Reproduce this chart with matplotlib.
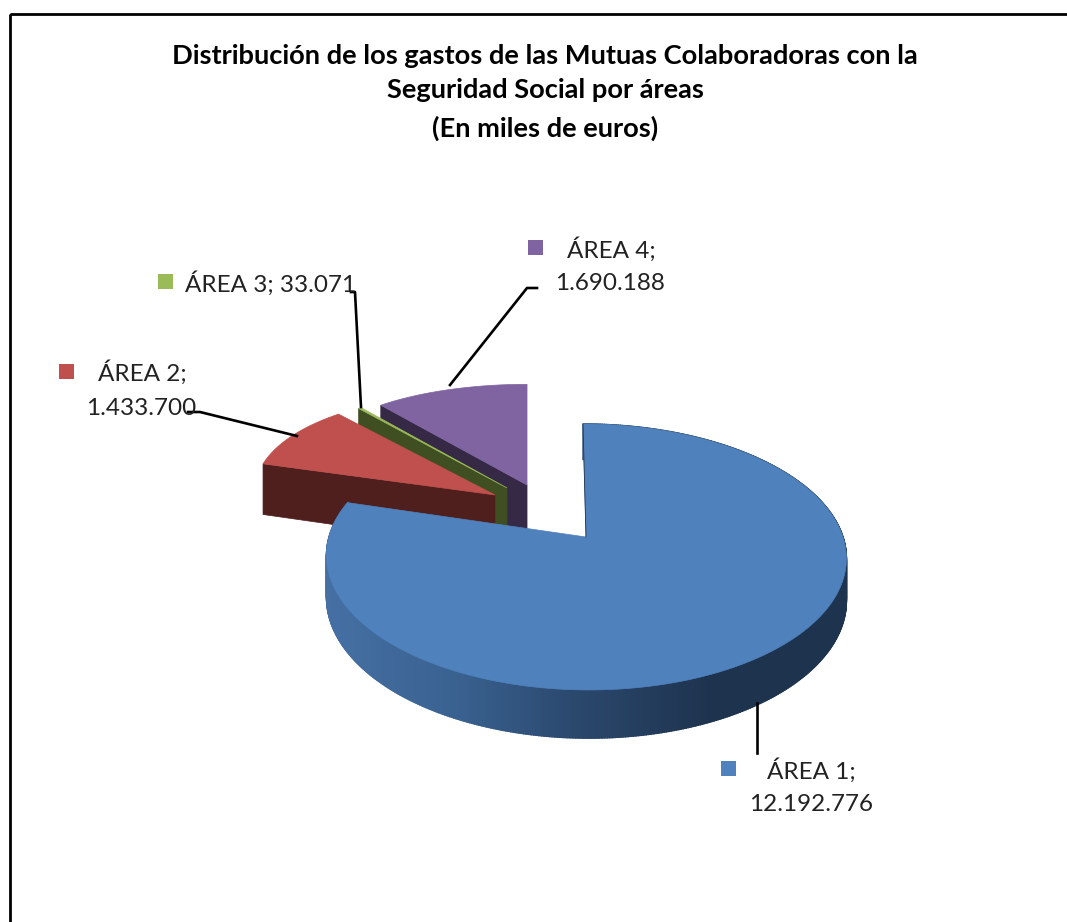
import numpy as np
import matplotlib
matplotlib.use("Agg")
import matplotlib.pyplot as plt
from matplotlib.collections import PolyCollection
from matplotlib.colors import LinearSegmentedColormap
from matplotlib.patches import Polygon, Rectangle

plt.rcParams["font.family"] = ["Lato", "DejaVu Sans"]

title_lines = [
    "Distribución de los gastos de las Mutuas Colaboradoras con la",
    "Seguridad Social por áreas",
    "(En miles de euros)",
]
areas = ["ÁREA 1", "ÁREA 2", "ÁREA 3", "ÁREA 4"]
gastos = [12192776, 1433700, 33071, 1690188]
top_colors = ["#4F81BD", "#C0504D", "#9BBB59", "#8064A2"]
wall_colors = ["#1F3550", "#4F1F1D", "#3F4F22", "#352945"]

# where each slice is pulled out to, in disc units
offsets_u = [0.0, -0.356, -0.31, -0.229]
offsets_v = [0.0, 0.34, 0.40, 0.4255]
stretches = [1.0, 0.975, 0.933, 0.938]

CX, CY = 583, 537
RX, RY = 257, 130
K = 0.15
DEPTH = 41
OUT_DEPTH = 1.35


def project(u, v, z=0.0):
    den = 1 + K * v
    return CX + RX * u / den + 3 * (1 - v), CY - RY * v / den + z * DEPTH / den


def project_out(u, v, ov, z=0.0):
    # pulled-out slices keep straight vertical x, scaled at their apex
    den = 1 + K * v
    return CX + 260 * u / (1 + K * ov), CY - RY * v / den + z * DEPTH / den


def arc_points(a0, a1, ou, ov, stretch):
    t = np.radians(np.linspace(a0, a1, max(int(a1 - a0) * 2, 3)))
    u = np.concatenate([[ou], ou + stretch * np.sin(t)])
    v = np.concatenate([[ov], ov + np.cos(t)])
    return u, v


def thousands(n):
    return f"{n:,}".replace(",", ".")


fig = plt.figure(figsize=(10.67, 9.22), dpi=100)
ax = fig.add_axes([0, 0, 1, 1])
ax.set_xlim(0, 1067)
ax.set_ylim(922, 0)
ax.axis("off")

# frame runs off the right and bottom of the image
ax.add_patch(Rectangle((9.5, 14), 1100, 950, fill=False, ec="black", lw=2))

total = sum(gastos)
ends = np.cumsum(gastos) / total * 360
starts = np.concatenate([[0], ends[:-1]])

# leader lines
ax.plot([450, 527, 537], [385, 288, 288], color="black", lw=1.9)
ax.plot([361, 355, 351], [407, 292, 292], color="black", lw=1.9)
ax.plot([297, 200, 188], [436, 412, 412], color="black", lw=1.9)
ax.plot([757, 757], [703, 753], color="black", lw=1.9)

# pulled-out slices, back to front
for i in [3, 2, 1]:
    u, v = arc_points(starts[i], ends[i], offsets_u[i], offsets_v[i], stretches[i])
    top = np.column_stack(project_out(u, v, offsets_v[i]))
    bottom = np.column_stack(project_out(u, v, offsets_v[i], z=OUT_DEPTH))
    # radial wall on the lower-left edge
    wall = np.array([top[0], top[1], bottom[1], bottom[0]])
    ax.add_patch(Polygon(wall, fc=wall_colors[i], ec=wall_colors[i], lw=0.5))
    ax.add_patch(Polygon(top, fc=top_colors[i], ec=top_colors[i], lw=0.5))

# big slice: shaded rim, then its top
rim_cmap = LinearSegmentedColormap.from_list(
    "rim", ["#1E334E", "#1E334E", "#2A476C", "#3A6291", "#4670A4"]
)
angles = np.arange(0, ends[0], 0.5)
quads, shade = [], []
for a in angles[np.argsort(-np.cos(np.radians(angles)))]:
    t = np.radians([a, a + 0.6])
    u, v = np.sin(t), np.cos(t)
    x0, y0 = project(u, v)
    x1, y1 = project(u, v, 1.0)
    quads.append([(x0[0], y0[0]), (x0[1], y0[1]), (x1[1], y1[1]), (x1[0], y1[0])])
    shade.append((CX + RX - x0[0]) / (2 * RX))
rim_colors = rim_cmap(np.clip(shade, 0, 1))
ax.add_collection(PolyCollection(quads, facecolors=rim_colors, edgecolors=rim_colors, lw=1.0))

u, v = arc_points(starts[0], ends[0], 0.0, 0.0, 1.0)
top = np.column_stack(project(u, v))
ax.add_patch(Polygon(top, fc=top_colors[0], ec=top_colors[0], lw=0.5))
ax.plot([top[0, 0], top[1, 0]], [top[0, 1], top[1, 1]], color=wall_colors[0], lw=0.6)

# title
for line, ty in zip(title_lines, [56, 90, 128]):
    ax.text(545, ty, line, ha="center", va="center", fontsize=19.6, fontweight="bold", color="black")


# data labels with their colour keys
def key(x, y, color):
    ax.add_patch(Rectangle((x, y), 15, 15, fc=color, ec="none"))


def label(x, y, s):
    ax.text(x, y, s, ha="left", va="center", fontsize=17.5, color="#222222")


key(721, 761, top_colors[0])
label(767, 771, areas[0] + ";")
label(749, 804, thousands(gastos[0]))

key(59, 364, top_colors[1])
label(98, 373, areas[1] + ";")
label(86, 408, thousands(gastos[1]))

key(158, 274, top_colors[2])
label(185, 284, f"{areas[2]}; {thousands(gastos[2])}")

key(528, 240, top_colors[3])
label(567, 250, areas[3] + ";")
label(555, 283, thousands(gastos[3]))

fig.savefig("out.png", dpi=100)
